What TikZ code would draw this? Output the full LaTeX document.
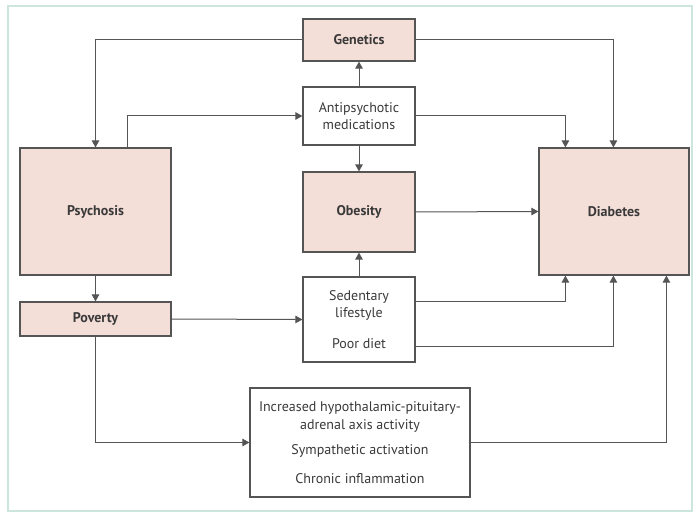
\documentclass[tikz,border=0pt]{standalone}
\usepackage{fontspec}
\setmainfont{PT Sans}
\usetikzlibrary{arrows.meta,calc}
\definecolor{pinkfill}{HTML}{F4DED8}
\definecolor{framec}{HTML}{CDE6DC}
\definecolor{linec}{HTML}{555555}
\definecolor{textc}{HTML}{3A3A3A}
\begin{document}
\begin{tikzpicture}[x=1pt,y=-1pt,
  box/.style={draw=linec,line width=1.2pt,inner sep=0pt,text=textc,font=\fontsize{14}{17.5}\selectfont,align=center},
  pbox/.style={box,fill=pinkfill,font=\fontsize{14}{17.5}\selectfont\bfseries},
  wbox/.style={box,fill=white},
  conn/.style={draw=linec,line width=1pt,-{Triangle[length=7pt,width=7.5pt]}}
]
\useasboundingbox (0,0) rectangle (693,513);
\draw[framec,line width=1.5pt] (8,6) rectangle (692,511);
\node[pbox,minimum width=112pt,minimum height=42pt] (gen) at (359,40) {Genetics};
\node[wbox,minimum width=112pt,minimum height=58pt] (anti) at (359,116) {Antipsychotic\\medications};
\node[pbox,minimum width=112pt,minimum height=80pt] (obe) at (359,212) {Obesity};
\node[pbox,minimum width=151pt,minimum height=127pt] (psy) at (95.5,211.5) {Psychosis};
\node[pbox,minimum width=151pt,minimum height=34pt] (pov) at (95.5,319) {Poverty};
\node[wbox,minimum width=112pt,minimum height=85pt] (sed) at (359,319.5) {Sedentary\\lifestyle\\[13pt]Poor diet};
\node[wbox,minimum width=220pt,minimum height=109pt] (inc) at (360,442.5) {Increased hypothalamic-pituitary-\\adrenal axis activity\\[8pt]Sympathetic activation\\[11pt]Chronic inflammation};
\node[pbox,minimum width=150pt,minimum height=127pt] (dia) at (614,211.5) {Diabetes};
\draw[conn] (gen.west) -| (psy.north);
\draw[conn] ($(psy.north west)+(108,0)$) |- (anti.west);
\draw[conn] (anti.north) -- (gen.south);
\draw[conn] (anti.south) -- (obe.north);
\draw[conn] (anti.east) -| ($(dia.north west)+(27,0)$);
\draw[conn] (gen.east) -| ($(dia.north west)+(75,0)$);
\draw[conn] (obe.east) -- (dia.west);
\draw[conn] (sed.north) -- (obe.south);
\draw[conn] (psy.south) -- (pov.north);
\draw[conn] (pov.east) -- (sed.west);
\draw[conn] ($(sed.north east)+(0,25)$) -| ($(dia.south west)+(27,0)$);
\draw[conn] ($(sed.north east)+(0,70)$) -| ($(dia.south west)+(75,0)$);
\draw[conn] (pov.south) |- (inc.west);
\draw[conn] (inc.east) -| ($(dia.south west)+(128,0)$);
\end{tikzpicture}
\end{document}
